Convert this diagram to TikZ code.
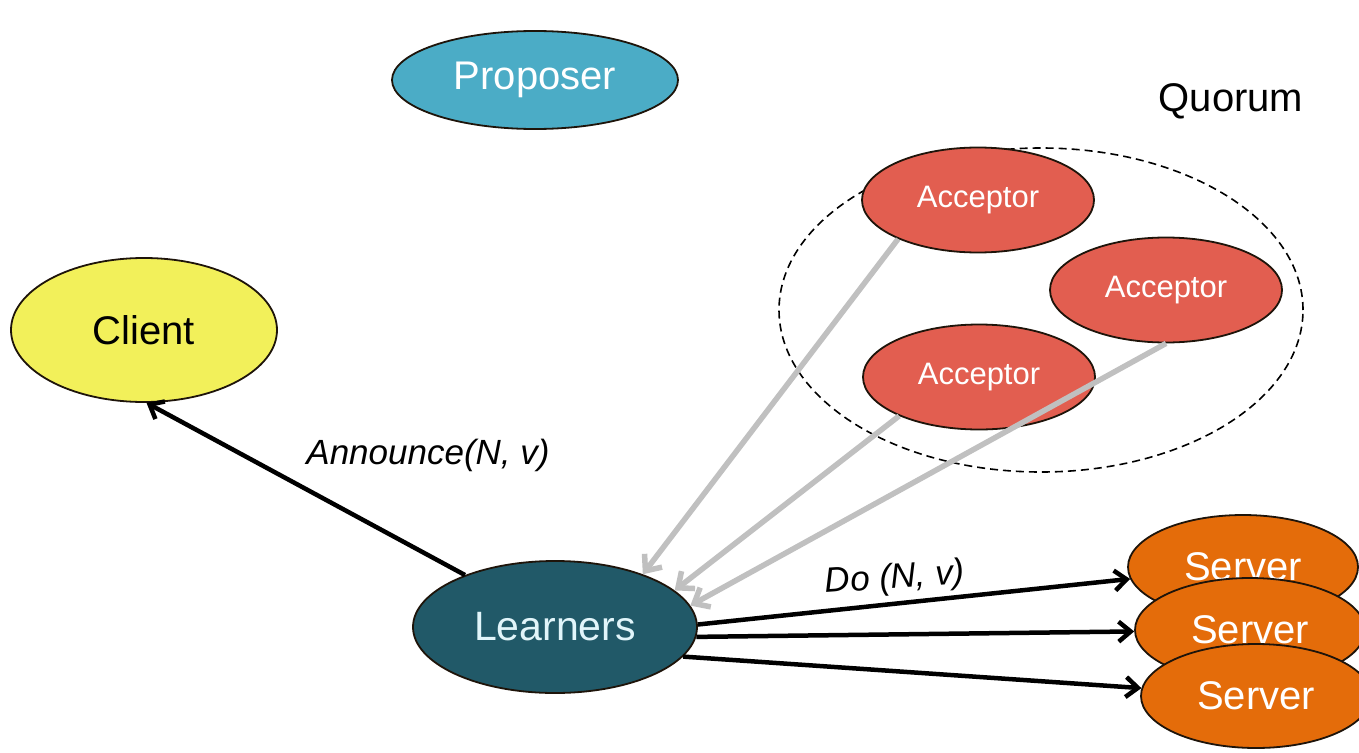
\documentclass[tikz,border=0pt]{standalone}
\usepackage{fontspec}
\setmainfont{Liberation Sans}
\usetikzlibrary{shapes.geometric,arrows.meta}

\definecolor{propcol}{RGB}{75,172,198}
\definecolor{acccol}{RGB}{226,94,80}
\definecolor{clientcol}{RGB}{242,240,90}
\definecolor{learncol}{RGB}{33,89,104}
\definecolor{servcol}{RGB}{228,108,10}
\definecolor{edgecol}{RGB}{30,20,10}
\definecolor{greyarrow}{RGB}{192,192,192}
\definecolor{learntext}{RGB}{225,245,250}

\tikzset{
  blob/.style={ellipse, draw=edgecol, line width=1.8pt, inner sep=0pt},
  proposerbox/.style={blob, fill=propcol, minimum width=286pt, minimum height=98pt,
    text=white, font=\fontsize{40}{44}\selectfont},
  acceptorbox/.style={blob, fill=acccol, minimum width=232pt, minimum height=105pt,
    text=white, font=\fontsize{31}{35}\selectfont},
  clientbox/.style={blob, fill=clientcol, minimum width=266pt, minimum height=144pt,
    text=black, font=\fontsize{40}{44}\selectfont},
  learnerbox/.style={blob, fill=learncol, minimum width=284pt, minimum height=132pt,
    text=learntext, font=\fontsize{41}{46}\selectfont},
  serverbox/.style={blob, fill=servcol, minimum width=230pt, minimum height=104pt,
    text=white, font=\fontsize{40}{44}\selectfont},
  quorumring/.style={ellipse, draw=black, line width=1.6pt,
    dash pattern=on 8pt off 5pt, minimum width=524pt, minimum height=324pt},
  msgarrow/.style={draw=black, line width=4.5pt,
    -{Straight Barb[length=12pt,width=20pt,line width=4.5pt]}},
  votearrow/.style={draw=greyarrow, line width=5.5pt,
    -{Straight Barb[length=13pt,width=22pt,line width=5.5pt]}},
  msglabel/.style={font=\fontsize{35}{40}\selectfont\itshape, inner sep=0pt}
}

\begin{document}
\begin{tikzpicture}[x=1pt,y=-1pt]
  \useasboundingbox (0,0) rectangle (1359,752);
  \clip (0,0) rectangle (1359,752);
  \fill[white] (0,0) rectangle (1359,752);

  % proposer
  \node[proposerbox] (P) at (535,80) {Proposer};

  % quorum of acceptors
  \node[quorumring] (Q) at (1041,310) {};
  \node[font=\fontsize{40}{44}\selectfont, inner sep=0pt] (QL) at (1231,101) {Quorum};
  \node[acceptorbox] (A1) at (978,200) {Acceptor};
  \node[acceptorbox] (A2) at (1166,290) {Acceptor};
  \node[acceptorbox] (A3) at (979,377) {Acceptor};

  % client and learners
  \node[clientbox] (C) at (144,330) {Client};
  \node[learnerbox] (L) at (555,627) {Learners};

  % accepted values reach the learners
  \draw[votearrow] (A1.206) -- (L.31);
  \draw[votearrow] (A3.206) -- (L.17);
  \draw[votearrow] (A2.south) -- (L.9);

  % learners announce to the client
  \draw[msgarrow] (L.150) -- (C.-88);
  \node[msglabel] (AN) at (428,455) {Announce(N, v)};

  % servers
  \node[serverbox] (S1) at (1243,567) {Server};
  \node[serverbox] (S2) at (1250,630) {Server};
  \node[serverbox] (S3) at (1256,696) {Server};

  % learners instruct the servers
  \draw[msgarrow] (L.1) -- (S1);
  \draw[msgarrow] (L.-4) -- (S2);
  \draw[msgarrow] (L.-13) -- (S3);
  \node[msglabel, rotate=4] (DO) at (895,579) {Do (N, v)};
\end{tikzpicture}
\end{document}
